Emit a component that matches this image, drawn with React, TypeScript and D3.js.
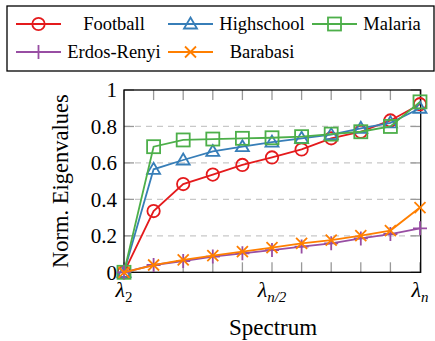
import React from 'react';
import * as d3 from 'd3';

const W = 435;
const H = 341;

const spectrumIdx = [0, 1, 2, 3, 4, 5, 6, 7, 8, 9, 10];
const football = [0, 0.336, 0.484, 0.536, 0.589, 0.630, 0.674, 0.735, 0.771, 0.833, 0.922];
const highschool = [0, 0.565, 0.616, 0.663, 0.689, 0.714, 0.735, 0.755, 0.790, 0.820, 0.900];
const malaria = [0, 0.689, 0.726, 0.731, 0.735, 0.738, 0.744, 0.758, 0.771, 0.800, 0.935];
const erdosRenyi = [0, 0.040, 0.062, 0.086, 0.104, 0.122, 0.141, 0.159, 0.186, 0.210, 0.241];
const barabasi = [0, 0.040, 0.068, 0.091, 0.113, 0.135, 0.159, 0.177, 0.201, 0.229, 0.355];

const yTicks = [0, 0.2, 0.4, 0.6, 0.8, 1];
const yTickLabels = ['0', '0.2', '0.4', '0.6', '0.8', '1'];
const xLabelIdx = [0, 5, 10];
const xLabelSubs = ['2', 'n/2', 'n'];

type Shape = 'circle' | 'triangle' | 'square' | 'plus' | 'cross';

const series: { name: string; values: number[]; color: string; shape: Shape }[] = [
  { name: 'Football', values: football, color: '#e41a1c', shape: 'circle' },
  { name: 'Highschool', values: highschool, color: '#377eb8', shape: 'triangle' },
  { name: 'Malaria', values: malaria, color: '#4daf4a', shape: 'square' },
  { name: 'Erdos-Renyi', values: erdosRenyi, color: '#984ea3', shape: 'plus' },
  { name: 'Barabasi', values: barabasi, color: '#ff7f00', shape: 'cross' },
];

const txt = { fontFamily: "'Liberation Serif', 'Times New Roman', 'DejaVu Serif', serif" };

const Marker = ({ shape, x, y, color }: { shape: Shape; x: number; y: number; color: string }) => {
  const sw = 1.8;
  if (shape === 'circle')
    return <circle cx={x} cy={y} r={6.2} fill="none" stroke={color} strokeWidth={sw} />;
  if (shape === 'square')
    return <rect x={x - 6.5} y={y - 6.5} width={13} height={13} fill="none" stroke={color} strokeWidth={sw} />;
  if (shape === 'triangle')
    return (
      <path d={`M${x},${y - 6.5} L${x + 6.5},${y + 4.5} L${x - 6.5},${y + 4.5} Z`}
        fill="none" stroke={color} strokeWidth={sw} />
    );
  if (shape === 'plus')
    return <path d={`M${x - 7},${y} H${x + 7} M${x},${y - 7} V${y + 7}`} stroke={color} strokeWidth={sw} />;
  return (
    <path d={`M${x - 5.5},${y - 5.5} L${x + 5.5},${y + 5.5} M${x - 5.5},${y + 5.5} L${x + 5.5},${y - 5.5}`}
      stroke={color} strokeWidth={sw} />
  );
};

export default function App() {
  const left = 124, right = 420.7, top = 90, bottom = 272.3;
  const x = d3.scaleLinear().domain([0, 10]).range([left, 420]);
  const y = d3.scaleLinear().domain([0, 1]).range([bottom, top]);
  const line = d3.line<number>().x((_, i) => x(spectrumIdx[i])).y((d) => y(d));

  // legend layout
  const colLine = [16, 168, 312];
  const colText = [114, 262, 392];
  const rowY = [24, 52];

  return (
    <svg width={W} height={H} style={{ position: 'absolute', left: 0, top: 0 }}>
      <rect width={W} height={H} fill="#fff" />

      {/* grid */}
      {yTicks.slice(1, -1).map((t) => (
        <line key={t} x1={left} x2={right} y1={y(t)} y2={y(t)} stroke="#c8c8c8" strokeWidth={1.2} strokeDasharray="6,5" />
      ))}

      {/* ticks */}
      {spectrumIdx.map((i) => (
        <g key={i} stroke="#999" strokeWidth={1.3}>
          <line x1={x(i)} x2={x(i)} y1={bottom} y2={bottom - 10} />
          <line x1={x(i)} x2={x(i)} y1={top} y2={top + 10} />
        </g>
      ))}
      {yTicks.map((t) => (
        <g key={t} stroke="#999" strokeWidth={1.3}>
          <line x1={left} x2={left + 10} y1={y(t)} y2={y(t)} />
          <line x1={right} x2={right - 10} y1={y(t)} y2={y(t)} />
        </g>
      ))}

      {/* frame */}
      <rect x={left} y={top} width={right - left} height={bottom - top} fill="none" stroke="#000" strokeWidth={1.3} />

      {/* series */}
      {series.map((s) => (
        <g key={s.name}>
          <path d={line(s.values) || ''} fill="none" stroke={s.color} strokeWidth={1.8} />
          {s.values.map((v, i) => (
            <Marker key={i} shape={s.shape} x={x(spectrumIdx[i])} y={y(v)} color={s.color} />
          ))}
        </g>
      ))}

      {/* y tick labels */}
      {yTicks.map((t, i) => (
        <text key={t} x={117} y={y(t)} dy="0.35em" textAnchor="end" style={txt} fontSize={21}>
          {yTickLabels[i]}
        </text>
      ))}

      {/* x tick labels */}
      {xLabelIdx.map((idx, i) => (
        <text key={idx} x={x(idx)} y={297} textAnchor="middle" style={txt} fontSize={22}>
          <tspan fontStyle="italic">λ</tspan>
          <tspan fontSize={15} dy={5} fontStyle={xLabelSubs[i] === '2' ? 'normal' : 'italic'}>
            {xLabelSubs[i]}
          </tspan>
        </text>
      ))}

      {/* axis labels */}
      <text transform={`translate(68,${(top + bottom) / 2}) rotate(-90)`} textAnchor="middle" style={txt} fontSize={22.5}>
        Norm. Eigenvalues
      </text>
      <text x={273} y={335} textAnchor="middle" style={txt} fontSize={23}>
        Spectrum
      </text>

      {/* legend */}
      <rect x={7} y={6} width={427} height={65} fill="#fff" stroke="#000" strokeWidth={1.3} />
      {series.map((s, i) => {
        const col = i < 3 ? i : i - 3;
        const row = i < 3 ? 0 : 1;
        const lx = colLine[col];
        const ly = rowY[row];
        return (
          <g key={s.name}>
            <line x1={lx} x2={lx + 45} y1={ly} y2={ly} stroke={s.color} strokeWidth={1.8} />
            <Marker shape={s.shape} x={lx + 22.5} y={ly} color={s.color} />
            <text x={colText[col]} y={ly} dy="0.33em" textAnchor="middle" style={txt} fontSize={18.5}>
              {s.name}
            </text>
          </g>
        );
      })}
    </svg>
  );
}
